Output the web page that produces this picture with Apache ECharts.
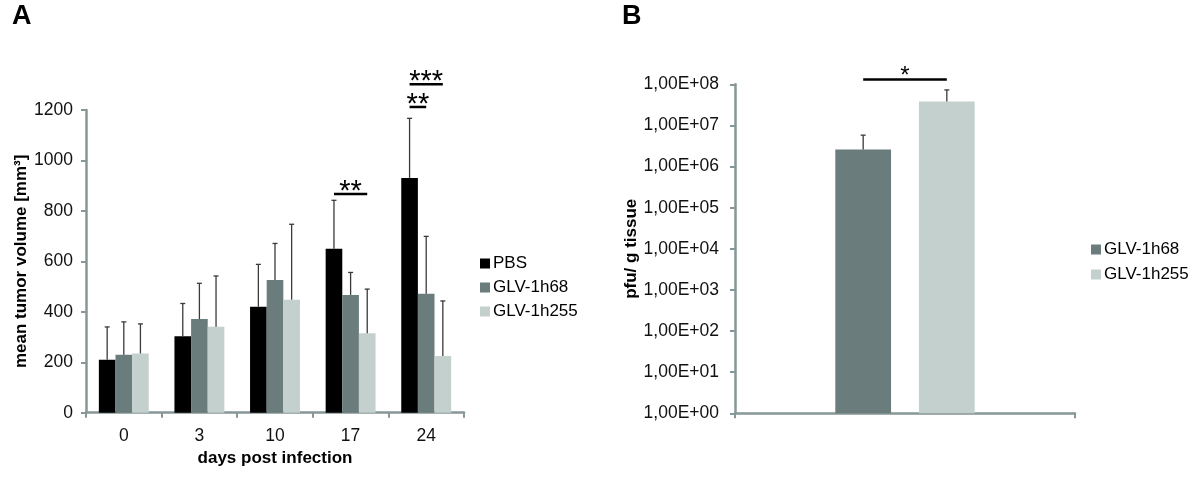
<!DOCTYPE html>
<html>
<head>
<meta charset="utf-8">
<script src="https://cdn.jsdelivr.net/npm/echarts@6/dist/echarts.min.js"></script>
<style>html,body{margin:0;padding:0;background:#fff}#c{width:1200px;height:477px}</style>
</head>
<body>
<div id="c"></div>
<script>
// ---- Panel A data ----
const daysA = ['0', '3', '10', '17', '24'];
const pbsMean = [210, 303, 420, 650, 930];
const pbsSd = [130, 130, 168, 192, 237];
const h68Mean = [230, 371, 526, 467, 472];
const h68Sd = [130, 142, 145, 89, 227];
const h255Mean = [235, 341, 448, 315, 225];
const h255Sd = [117, 201, 299, 175, 218];
const yTicksA = [0, 200, 400, 600, 800, 1000, 1200];
// significance brackets A: category, level, from-bar, to-bar, label
const sigCatA = [3, 4, 4];
const sigLevelA = [867, 1212, 1302];
const sigFromA = [0, 0, 0];
const sigToA = [2, 1, 2];
const sigLabelA = ['**', '**', '***'];

// ---- Panel B data ----
const groupsB = ['GLV-1h68', 'GLV-1h255'];
const pfuMean = [2.6e6, 3.8e7];
const pfuSd = [3.2e6, 3.5e7];
const sigLevelB = [1.3e8];
const sigLabelB = ['*'];

const GAP_A = 0.34;
const GAP_B = 0.59, BARGAP_B = 0.5;
const axisColor = '#879797';
const errColor = '#3a3a3a';
const colors = ['#000000', '#6b7c7c', '#c3d0cd'];
const FONT = 'Liberation Sans, Arial, sans-serif';
const FS = 17.5;

const chart = echarts.init(document.getElementById('c'));

const errDataA = [];
[[pbsMean, pbsSd], [h68Mean, h68Sd], [h255Mean, h255Sd]].forEach((pair, s) => {
  pair[0].forEach((m, i) => errDataA.push([i, m, m + pair[1][i], s]));
});
const errDataB = pfuMean.map((m, s) => [0, m, m + pfuSd[s], s]);

function errRender(nBars, gap, barGap) {
  return function (params, api) {
    const cat = api.value(0);
    const p0 = api.coord([cat, api.value(1)]);
    const p1 = api.coord([cat, api.value(2)]);
    const bw = api.size([1, 0])[0];
    const barW = bw * (1 - gap) / (nBars + (nBars - 1) * barGap);
    const s = api.value(3);
    const x = p0[0] + (s - (nBars - 1) / 2) * barW * (1 + barGap);
    const st = { stroke: errColor, lineWidth: 1.3 };
    return {
      type: 'group',
      children: [
        { type: 'line', shape: { x1: x, y1: p0[1], x2: x, y2: p1[1] }, style: st },
        { type: 'line', shape: { x1: x - 2.5, y1: p1[1], x2: x + 2.5, y2: p1[1] }, style: st }
      ]
    };
  };
}

function sigRender(nBars, gap, barGap, fromArr, toArr, labels, fontSize, dy) {
  return function (params, api) {
    const cat = api.value(0);
    const p = api.coord([cat, api.value(1)]);
    const bw = api.size([1, 0])[0];
    const barW = bw * (1 - gap) / (nBars + (nBars - 1) * barGap);
    const f = fromArr[params.dataIndex], t = toArr[params.dataIndex];
    const x1 = p[0] + (f - (nBars - 1) / 2) * barW * (1 + barGap);
    const x2 = p[0] + (t - (nBars - 1) / 2) * barW * (1 + barGap);
    return {
      type: 'group',
      children: [
        { type: 'line', shape: { x1: x1, y1: p[1], x2: x2, y2: p[1] }, style: { stroke: '#000', lineWidth: 2.5 } },
        { type: 'text', x: (x1 + x2) / 2, y: p[1] + dy,
          style: { text: labels[params.dataIndex], fill: '#000', fontSize: fontSize, fontFamily: FONT,
                   align: 'center', verticalAlign: 'middle' } }
      ]
    };
  };
}

const yAxisCommon = {
  axisLine: { show: true, lineStyle: { color: axisColor, width: 2.5 } },
  axisTick: { show: true, length: 5, lineStyle: { color: axisColor, width: 2 } },
  splitLine: { show: false },
  axisLabel: { fontSize: FS, color: '#111', fontFamily: FONT },
  nameLocation: 'middle',
  nameTextStyle: { fontSize: 17, fontWeight: 'bold', color: '#000', fontFamily: FONT }
};

const option = {
  backgroundColor: '#fff',
  animation: false,
  title: [
    { text: 'A', left: 7, top: -2, textStyle: { fontSize: 27, fontWeight: 'bold', color: '#000', fontFamily: FONT } },
    { text: 'B', left: 617, top: -2, textStyle: { fontSize: 27, fontWeight: 'bold', color: '#000', fontFamily: FONT } }
  ],
  legend: [
    { data: ['PBS', 'GLV-1h68', 'GLV-1h255'], orient: 'vertical', left: 475, top: 250,
      itemWidth: 10, itemHeight: 10, itemGap: 7, icon: 'rect',
      textStyle: { fontSize: 17, color: '#000', fontFamily: FONT, padding: [0, 0, 0, -2] } },
    { data: groupsB, orient: 'vertical', left: 1086, top: 236,
      itemWidth: 10, itemHeight: 10, itemGap: 8, icon: 'rect',
      textStyle: { fontSize: 17, color: '#000', fontFamily: FONT, padding: [0, 0, 0, -2] } }
  ],
  grid: [
    { left: 86, top: 110, width: 378, height: 302.7 },
    { left: 735, top: 84.3, width: 340, height: 329 }
  ],
  xAxis: [
    { type: 'category', gridIndex: 0, data: daysA,
      axisLine: { lineStyle: { color: axisColor, width: 2.5 } },
      axisTick: { show: true, length: 5, lineStyle: { color: axisColor, width: 2 } },
      axisLabel: { fontSize: FS, color: '#111', fontFamily: FONT, margin: 14 },
      name: 'days post infection', nameLocation: 'middle', nameGap: 36,
      nameTextStyle: { fontSize: 17, fontWeight: 'bold', color: '#000', fontFamily: FONT } },
    { type: 'category', gridIndex: 1, data: [''],
      axisLine: { lineStyle: { color: axisColor, width: 2.5 } },
      axisTick: { show: true, length: 5, lineStyle: { color: axisColor, width: 2 } },
      axisLabel: { show: false } }
  ],
  yAxis: [
    Object.assign({}, yAxisCommon, {
      type: 'value', gridIndex: 0, min: yTicksA[0], max: yTicksA[yTicksA.length - 1], interval: 200,
      name: 'mean tumor volume [mm³]', nameGap: 52,
      axisLabel: Object.assign({}, yAxisCommon.axisLabel, { margin: 13, formatter: v => String(v) })
    }),
    Object.assign({}, yAxisCommon, {
      type: 'log', logBase: 10, gridIndex: 1, min: 1, max: 1e8, interval: 1,
      name: 'pfu/ g tissue', nameGap: 91,
      axisLabel: Object.assign({}, yAxisCommon.axisLabel, { margin: 16,
        formatter: v => { const e = Math.round(Math.log10(v)); return '1,00E+' + (e < 10 ? '0' : '') + e; } })
    })
  ],
  series: [
    { name: 'PBS', type: 'bar', xAxisIndex: 0, yAxisIndex: 0, data: pbsMean,
      itemStyle: { color: colors[0] }, barCategoryGap: (GAP_A * 100) + '%', barGap: '0%' },
    { name: 'GLV-1h68', type: 'bar', xAxisIndex: 0, yAxisIndex: 0, data: h68Mean,
      itemStyle: { color: colors[1] }, barGap: '0%' },
    { name: 'GLV-1h255', type: 'bar', xAxisIndex: 0, yAxisIndex: 0, data: h255Mean,
      itemStyle: { color: colors[2] }, barGap: '0%' },
    { name: 'errA', type: 'custom', xAxisIndex: 0, yAxisIndex: 0, data: errDataA, clip: false, z: 3,
      renderItem: errRender(3, GAP_A, 0) },
    { name: 'sigA', type: 'custom', xAxisIndex: 0, yAxisIndex: 0, clip: false, z: 4,
      data: sigCatA.map((c, i) => [c, sigLevelA[i]]),
      renderItem: sigRender(3, GAP_A, 0, sigFromA, sigToA, sigLabelA, 29, -2) },

    { name: 'GLV-1h68', type: 'bar', xAxisIndex: 1, yAxisIndex: 1, data: [pfuMean[0]],
      itemStyle: { color: colors[1] }, barCategoryGap: (GAP_B * 100) + '%', barGap: (BARGAP_B * 100) + '%' },
    { name: 'GLV-1h255', type: 'bar', xAxisIndex: 1, yAxisIndex: 1, data: [pfuMean[1]],
      itemStyle: { color: colors[2] }, barGap: (BARGAP_B * 100) + '%' },
    { name: 'errB', type: 'custom', xAxisIndex: 1, yAxisIndex: 1, data: errDataB, clip: false, z: 3,
      renderItem: errRender(2, GAP_B, BARGAP_B) },
    { name: 'sigB', type: 'custom', xAxisIndex: 1, yAxisIndex: 1, clip: false, z: 4,
      data: sigLevelB.map(l => [0, l]),
      renderItem: sigRender(2, GAP_B, BARGAP_B, [0], [1], sigLabelB, 24, -3) }
  ]
};
chart.setOption(option);
</script>
</body>
</html>
